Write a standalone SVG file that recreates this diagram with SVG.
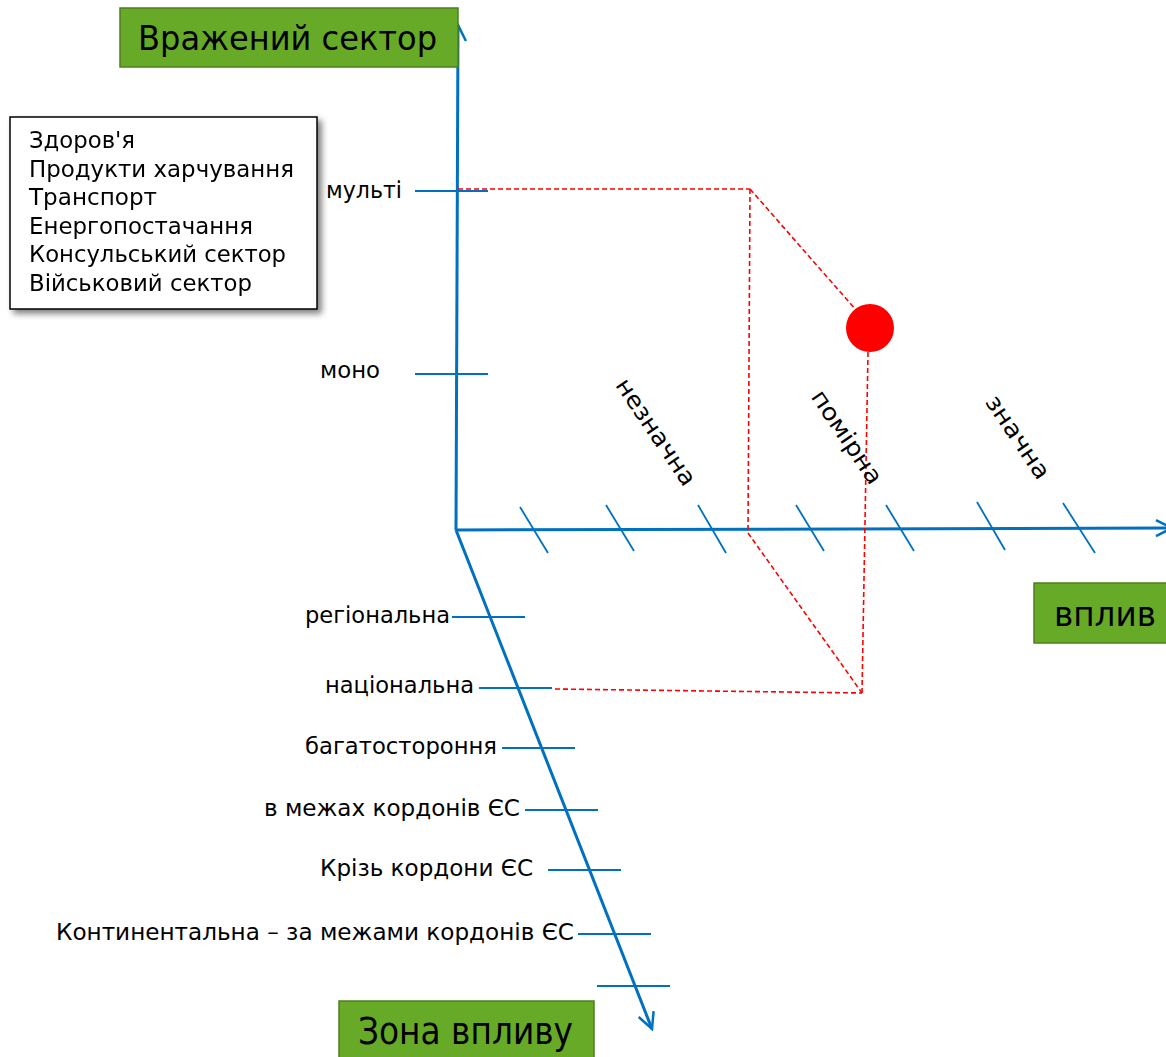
<svg xmlns="http://www.w3.org/2000/svg" width="1166" height="1057" viewBox="0 0 1166 1057">
<style>
text{font-family:"DejaVu Sans","Verdana",sans-serif;fill:#000}
.axis{stroke:#0070C0;stroke-width:3;fill:none}
.tick{stroke:#0070C0;stroke-width:1.8;fill:none}
.red{stroke:#FF0000;stroke-width:1.6;stroke-dasharray:5 3;fill:none}
.gbox{fill:#67AA27;stroke:#4E7F1C;stroke-width:1.5}
.lbl{font-size:23.5px}
</style>
<defs>
<marker id="arr" viewBox="0 0 20 20" refX="18" refY="10" markerWidth="20" markerHeight="20" markerUnits="userSpaceOnUse" orient="auto">
<path d="M2,2 L18,10 L2,18" fill="none" stroke="#0070C0" stroke-width="2.5"/>
</marker>
<filter id="sh" x="-10%" y="-10%" width="130%" height="130%">
<feGaussianBlur in="SourceAlpha" stdDeviation="3"/>
<feOffset dx="4" dy="4"/>
<feComponentTransfer><feFuncA type="linear" slope="0.5"/></feComponentTransfer>
<feMerge><feMergeNode/><feMergeNode in="SourceGraphic"/></feMerge>
</filter>
</defs>
<rect width="1166" height="1057" fill="#fff"/>
<g id="connectors">
<line class="axis" x1="456" y1="530" x2="458" y2="25" marker-end="url(#arr)"/>
<line class="axis" x1="456" y1="530" x2="1172" y2="528" marker-end="url(#arr)"/>
<line class="axis" x1="456" y1="530" x2="652" y2="1029" marker-end="url(#arr)"/>
<g id="ticks-v">
<line class="tick" x1="415" y1="191" x2="488" y2="191"/>
<line class="tick" x1="415" y1="374" x2="488" y2="374"/>
</g>
<g id="ticks-h">
<line class="tick" x1="520" y1="507" x2="548" y2="553"/>
<line class="tick" x1="606" y1="505" x2="634" y2="551"/>
<line class="tick" x1="698" y1="505" x2="726" y2="553"/>
<line class="tick" x1="796" y1="505" x2="824" y2="551"/>
<line class="tick" x1="886" y1="505" x2="914" y2="551"/>
<line class="tick" x1="977" y1="502" x2="1005" y2="550"/>
<line class="tick" x1="1063" y1="503" x2="1095" y2="553"/>
</g>
<g id="ticks-d">
<line class="tick" x1="452" y1="617" x2="525" y2="617"/>
<line class="tick" x1="479" y1="688" x2="552" y2="688"/>
<line class="tick" x1="502" y1="748" x2="575" y2="748"/>
<line class="tick" x1="525" y1="810" x2="598" y2="810"/>
<line class="tick" x1="548" y1="870" x2="621" y2="870"/>
<line class="tick" x1="578" y1="934" x2="651" y2="934"/>
<line class="tick" x1="597" y1="986" x2="670" y2="986"/>
</g>
<g id="projection">
<line class="red" x1="458" y1="189" x2="750" y2="189"/>
<line class="red" x1="750" y1="189" x2="748" y2="533"/>
<line class="red" x1="750" y1="189" x2="856" y2="310"/>
<line class="red" x1="868" y1="352" x2="862" y2="693"/>
<line class="red" x1="748" y1="533" x2="862" y2="693"/>
<line class="red" x1="555" y1="689" x2="862" y2="693"/>
</g>
</g>
<g id="point"><circle cx="870" cy="328" r="24" fill="#FF0000"/></g>
<g id="node-sector">
<rect class="gbox" x="120" y="8" width="338" height="59"/>
<text x="138" y="50" font-size="34" textLength="299" lengthAdjust="spacingAndGlyphs">Вражений сектор</text>
</g>
<g id="node-impact">
<rect class="gbox" x="1034" y="583" width="140" height="60"/>
<text x="1054" y="626" font-size="33" textLength="102" lengthAdjust="spacingAndGlyphs">вплив</text>
</g>
<g id="node-zone">
<rect class="gbox" x="339" y="1001" width="255" height="62"/>
<text x="358" y="1044" font-size="38" textLength="215" lengthAdjust="spacingAndGlyphs">Зона впливу</text>
</g>
<g id="node-list" filter="url(#sh)">
<rect x="10" y="117" width="307" height="192" fill="#fff" stroke="#000" stroke-width="1.5"/>
<text class="lbl" x="29" y="148" textLength="106" lengthAdjust="spacingAndGlyphs">Здоров'я</text>
<text class="lbl" x="29" y="177" textLength="265" lengthAdjust="spacingAndGlyphs">Продукти харчування</text>
<text class="lbl" x="29" y="205" textLength="128" lengthAdjust="spacingAndGlyphs">Транспорт</text>
<text class="lbl" x="29" y="234" textLength="224" lengthAdjust="spacingAndGlyphs">Енергопостачання</text>
<text class="lbl" x="29" y="262" textLength="257" lengthAdjust="spacingAndGlyphs">Консульський сектор</text>
<text class="lbl" x="29" y="291" textLength="223" lengthAdjust="spacingAndGlyphs">Військовий сектор</text>
</g>
<g id="labels-v">
<text class="lbl" x="326" y="198" textLength="76" lengthAdjust="spacingAndGlyphs">мульті</text>
<text class="lbl" x="320" y="378" textLength="60" lengthAdjust="spacingAndGlyphs">моно</text>
</g>
<g id="labels-h">
<text class="lbl" transform="translate(656,432) rotate(56)" x="-62" dy="8" textLength="124" lengthAdjust="spacingAndGlyphs">незначна</text>
<text class="lbl" transform="translate(847,437) rotate(56)" x="-54" dy="8" textLength="108" lengthAdjust="spacingAndGlyphs">помірна</text>
<text class="lbl" transform="translate(1018,437) rotate(56)" x="-48" dy="8" textLength="96" lengthAdjust="spacingAndGlyphs">значна</text>
</g>
<g id="labels-d">
<text class="lbl" x="305" y="623" textLength="145" lengthAdjust="spacingAndGlyphs">регіональна</text>
<text class="lbl" x="325" y="693" textLength="149" lengthAdjust="spacingAndGlyphs">національна</text>
<text class="lbl" x="305" y="754" textLength="192" lengthAdjust="spacingAndGlyphs">багатостороння</text>
<text class="lbl" x="264" y="816" textLength="256" lengthAdjust="spacingAndGlyphs">в межах кордонів ЄС</text>
<text class="lbl" x="320" y="876" textLength="213" lengthAdjust="spacingAndGlyphs">Крізь кордони ЄС</text>
<text class="lbl" x="56" y="940" textLength="518" lengthAdjust="spacingAndGlyphs">Континентальна – за межами кордонів ЄС</text>
</g>
</svg>
